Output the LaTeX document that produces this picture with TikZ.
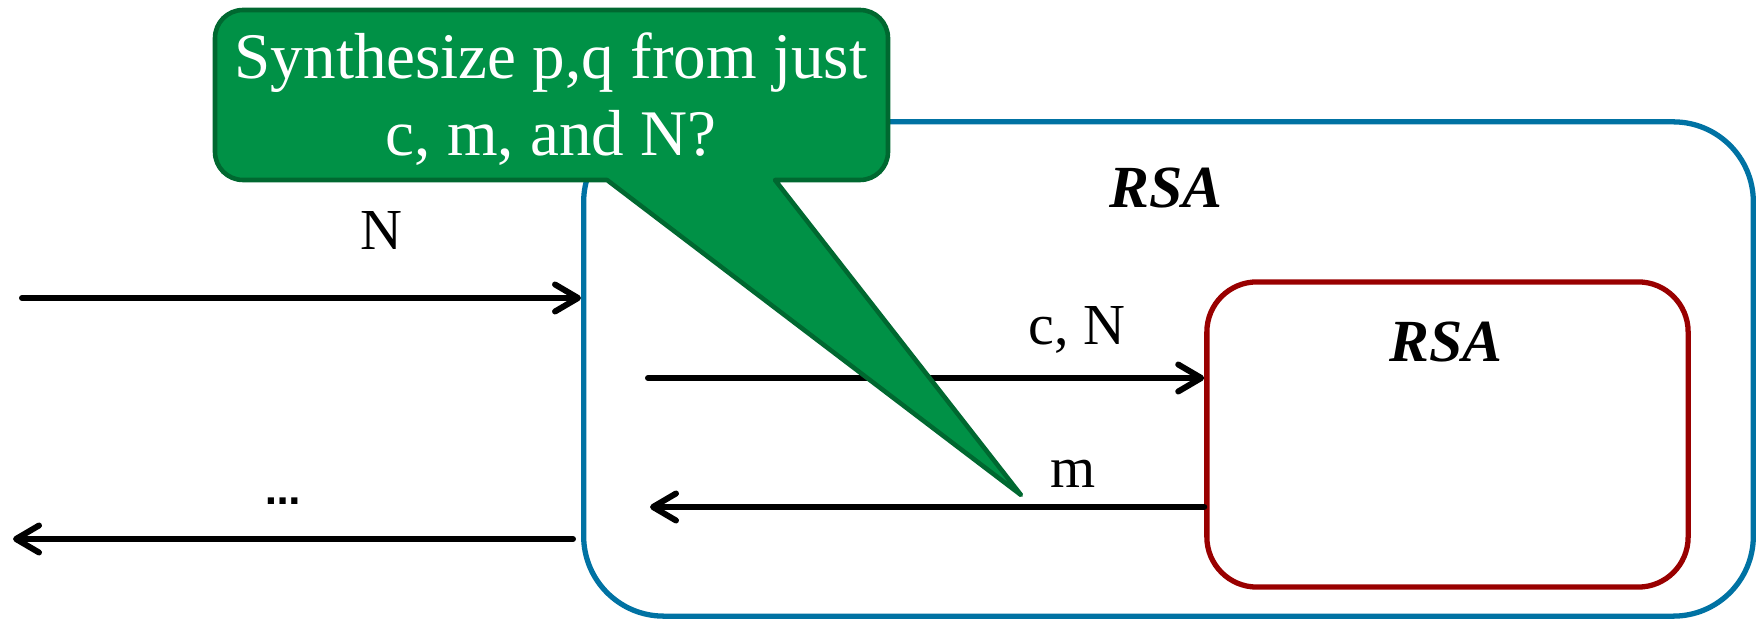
\documentclass[tikz,border=0pt]{standalone}
\usepackage{fontspec}
\setmainfont{Liberation Serif}
\newfontfamily\dotsfont{DejaVu Sans}
\usepackage{tikz}
\usetikzlibrary{arrows.meta}

\definecolor{rsablue}{RGB}{0,114,163}
\definecolor{rsared}{RGB}{153,0,0}
\definecolor{qgreen}{RGB}{0,145,70}
\definecolor{qdark}{RGB}{0,104,48}

\begin{document}
\begin{tikzpicture}[x=0.01cm,y=-0.01cm,
  arr/.style={line width=1.7pt,line cap=round,-{Straight Barb[length=2.3mm,width=2.7mm,line width=1.7pt,round]}},
  lbl/.style={font=\fontsize{16.5}{19}\selectfont,inner sep=0pt,anchor=base},
  rsa/.style={font=\fontsize{17}{20}\selectfont\bfseries\itshape,inner sep=0pt,anchor=base}]
\useasboundingbox (0,0) rectangle (1760,619);
% boxes
\node[draw=rsablue,line width=1.5pt,rounded corners=8mm,minimum width=11.69cm,minimum height=4.94cm] (outer) at (1168.5,369) {};
\node[draw=rsared,line width=1.5pt,rounded corners=5mm,minimum width=4.81cm,minimum height=3.05cm] (inner) at (1447.5,434.5) {};
\node[rsa] (outername) at (1166,208) {RSA};
\node[rsa] (innername) at (1446,362) {RSA};
% messages
\coordinate (nstart) at (22,298);
\coordinate (cstart) at (648,378);
\coordinate (mend) at (650,507);
\coordinate (dotsstart) at (573,539);
\coordinate (dotsend) at (13,539);
\draw[arr] (nstart) -- (nstart -| outer.west);
\draw[arr] (cstart) -- (cstart -| inner.west);
\draw[arr] (mend -| inner.west) -- (mend);
\draw[arr] (dotsstart) -- (dotsend);
\node[lbl] (nlabel) at (381,250) {N};
\node[lbl] (clabel) at (1077,345) {c, N};
\node[lbl] (mlabel) at (1073,488) {m};
\node[inner sep=0pt,font=\dotsfont\fontsize{10}{12}\selectfont\bfseries] (dotslabel) at (283,501) {…};
% question
\coordinate (tip) at (1021,495);
\filldraw[fill=qgreen,draw=qdark,line width=1.3pt,line join=round]
  (550,10) [rounded corners=2.8mm] -- (888,10) -- (888,180) [sharp corners] -- (775,180) -- (tip)
  -- (607,180) [rounded corners=2.8mm] -- (215,180) -- (215,10) -- cycle;
\node[align=center,text=white,inner sep=0pt,font=\fontsize{18.5}{22}\selectfont] (question) at (551,99)
  {Synthesize p,q from just\\c, m, and N?};
\end{tikzpicture}
\end{document}
